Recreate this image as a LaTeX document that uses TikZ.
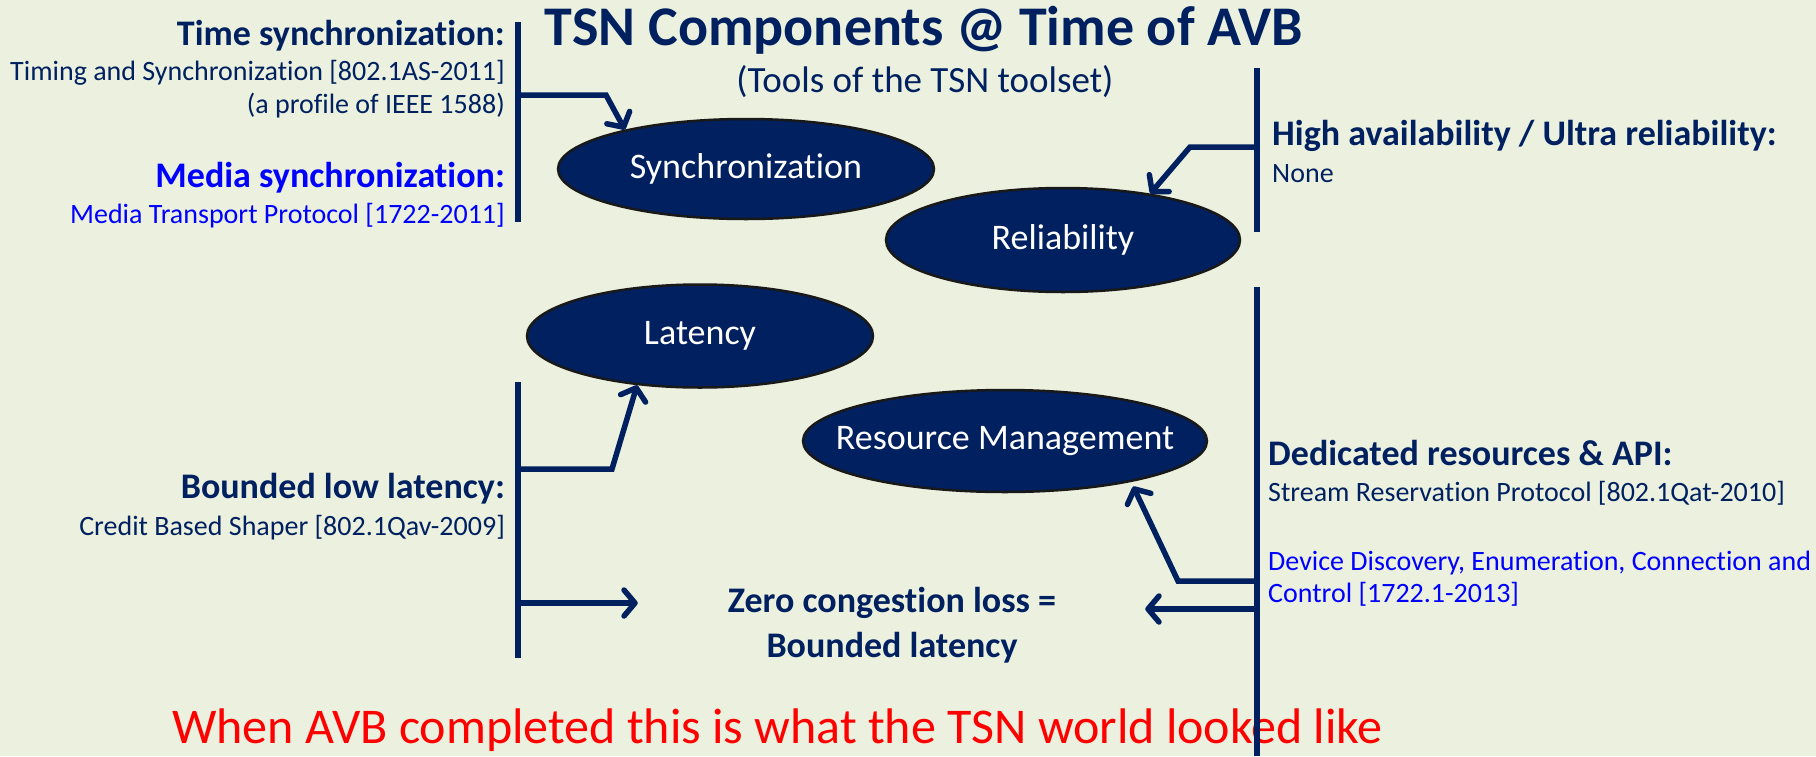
\documentclass[tikz,border=0pt]{standalone}
\usepackage{fontspec}
\setmainfont{Carlito}[Ligatures=NoCommon]
\usetikzlibrary{arrows.meta,shapes.geometric,calc}
\definecolor{navy}{HTML}{002060}
\definecolor{paper}{HTML}{EBF1DE}
\definecolor{linkblue}{HTML}{0000FF}
\definecolor{alert}{HTML}{FF0000}
\begin{document}
\begin{tikzpicture}[x=1pt,y=-1pt,
  ttl/.style={font=\bfseries\fontsize{56}{60}\selectfont, text=navy, inner sep=0pt},
  subttl/.style={font=\fontsize{37}{42}\selectfont, text=navy, inner sep=0pt},
  hd/.style={font=\bfseries\fontsize{36}{40}\selectfont, text=navy, inner sep=0pt},
  nt/.style={font=\fontsize{28}{32}\selectfont, text=navy, inner sep=0pt},
  comp/.style={ellipse, draw=black!90, line width=2.5pt, fill=navy, inner sep=0pt},
  compname/.style={font=\fontsize{36}{40}\selectfont, text=white, inner sep=0pt},
  warn/.style={font=\fontsize{50}{56}\selectfont, text=alert, inner sep=0pt},
  bar/.style={draw=navy, line width=5.5pt},
  link/.style={draw=navy, line width=5.5pt, -{Straight Barb[length=11pt,width=26pt,round]}},
]
% background
\fill[paper] (0,0) rectangle (1816,756);
\useasboundingbox (0,0) rectangle (1816,756);

% heading
\node[ttl, anchor=base] (title) at (924,45) {TSN Components @ Time of AVB};
\node[subttl, anchor=base] (subtitle) at (925,92) {(Tools of the TSN toolset)};

% components
\node[comp, minimum width=376pt, minimum height=100pt] (sync) at (746,169) {};
\node[compname] at (sync) {Synchronization};
\node[comp, minimum width=354pt, minimum height=104pt] (rel) at (1063,240) {};
\node[compname] at (rel) {Reliability};
\node[comp, minimum width=346pt, minimum height=103pt] (lat) at (700,336) {};
\node[compname] at (lat) {Latency};
\node[comp, minimum width=404pt, minimum height=102pt] (res) at (1005,441) {};
\node[compname] at (res) {Resource Management};

% time synchronization group
\node[hd, anchor=base east] (timesync) at (505,45) {Time synchronization:};
\node[nt, anchor=base east] (gptp) at (505,80) {Timing and Synchronization [802.1AS-2011]};
\node[nt, anchor=base east] (ptp) at (505,113) {(a profile of IEEE 1588)};
\node[hd, anchor=base east, text=linkblue] (mediasync) at (505,187) {Media synchronization:};
\node[nt, anchor=base east, text=linkblue] (avtp) at (505,223) {Media Transport Protocol [1722-2011]};

% reliability group
\node[hd, anchor=base west] (ha) at (1272,145) {High availability / Ultra reliability:};
\node[nt, anchor=base west] (none) at (1272,182) {None};

% latency group
\node[hd, anchor=base east] (bll) at (505,498) {Bounded low latency:};
\node[nt, anchor=base east] (cbs) at (505,535) {Credit Based Shaper [802.1Qav-2009]};

% resource group
\node[hd, anchor=base west] (ded) at (1268,465) {Dedicated resources \& API:};
\node[nt, anchor=base west] (srp) at (1268,501) {Stream Reservation Protocol [802.1Qat-2010]};
\node[nt, anchor=base west, text=linkblue] (avdecc1) at (1268,570) {Device Discovery, Enumeration, Connection and};
\node[nt, anchor=base west, text=linkblue] (avdecc2) at (1268,602) {Control [1722.1-2013]};

% shared outcome
\node[hd, anchor=base] (zero1) at (892,612) {Zero congestion loss =};
\node[hd, anchor=base] (zero2) at (892,657) {Bounded latency};

% footer
\node[warn, anchor=base west] (avb) at (172,743) {When AVB completed this is what the TSN world looked like};

% brackets
\coordinate (b1t) at (518,22);  \coordinate (b1b) at (518,222);
\coordinate (b2t) at (1257,68); \coordinate (b2b) at (1257,232);
\coordinate (b3t) at (518,382); \coordinate (b3b) at (518,658);
\coordinate (b4t) at (1257,287); \coordinate (b4b) at (1257,756);
\draw[bar] (b1t) -- (b1b);
\draw[bar] (b2t) -- (b2b);
\draw[bar] (b3t) -- (b3b);
\draw[bar] (b4t) -- (b4b);

% links
\coordinate (a1) at (518,95);
\coordinate (a2) at (1257,147);
\coordinate (a3) at (518,469);
\coordinate (a4) at (518,603);
\coordinate (a5) at (1257,581);
\coordinate (a6) at (1257,609);
\draw[link] (a1) -- ++(88,0) -- (sync.162);
\draw[link] (a2) -- ++(-67,0) -- (rel.28);
\draw[link] (a3) -- ++(94,0) -- (lat.-142);
\draw[link, shorten >=90pt] (a4) -- (a4 -| zero1.west);
\draw[link, shorten >=5pt] (a5) -- ++(-79,0) -- (res.-18);
\draw[link, shorten >=89pt] (a6) -- (a6 -| zero1.east);
\end{tikzpicture}
\end{document}
